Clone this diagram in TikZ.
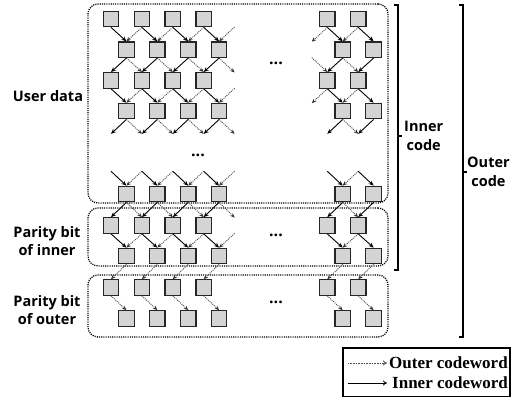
\documentclass[tikz,border=0pt]{standalone}
\usepackage{fontspec}
\setmainfont{Liberation Serif}
\newfontfamily\labelfont{Open Sans}
\usetikzlibrary{arrows.meta}

\begin{document}
\begin{tikzpicture}[x=1pt,y=-1pt,
  sq/.style={draw=black!85, fill=black!17, line width=1.2pt, minimum size=15.5pt, inner sep=0pt},
  ghost/.style={minimum size=15.5pt, inner sep=0pt},
  inarrow/.style={draw=black, line width=0.9pt, -{Stealth[length=5pt,width=4.2pt]}},
  outarrow/.style={draw=black!70, line width=0.9pt, dash pattern=on 1pt off 1pt, -{Stealth[length=4.5pt,width=3.8pt,color=black!80,fill=black!80]}},
  group/.style={draw=black, line width=1.3pt, dash pattern=on 1.1pt off 1.1pt, rounded corners=10pt},
  brk/.style={draw=black, line width=1.3pt},
  lbl/.style={font=\labelfont\bfseries\fontsize{14.5}{18.5}\selectfont, align=center, inner sep=0pt},
  dots/.style={font=\labelfont\bfseries\fontsize{16}{16}\selectfont, inner sep=0pt},
  legtext/.style={font=\bfseries\fontsize{17}{20}\selectfont, inner sep=0pt, anchor=west},
  legline/.style={line width=0.8pt, -{To[length=4pt,width=5pt]}}
]
\useasboundingbox (0,0) rectangle (520,398);

% dotted group frames
\node[group, minimum width=300pt, minimum height=199pt, inner sep=0pt] (userbox) at (238,103.5) {};
\node[group, minimum width=300pt, minimum height=58pt, inner sep=0pt] (innerbox) at (238,237) {};
\node[group, minimum width=300pt, minimum height=62pt, inner sep=0pt] (outerbox) at (238,306) {};

% data and parity cells (A rows start at 111, B rows at 126.4)
\foreach \r/\y/\o in {u1/19/111, u2/49.7/126.4, u3/80.4/111, u4/111.1/126.4,
                      u5/194/126.4, p1/225.5/111, p2/256/126.4, q1/287.5/111, q2/318.5/126.4}{
  \foreach \i in {0,1,2,3,7,8}
    \node[sq] (\r-\i) at ({\o+30.9*\i},\y) {};
}

% hidden positions where chains leave or enter the drawn block
\foreach \r/\y/\o/\i in {u1/19/111/4, u2/49.7/126.4/6, u3/80.4/111/4, u4/111.1/126.4/6, p1/225.5/111/4}
  \node[ghost] (\r-\i) at ({\o+30.9*\i},\y) {};
\foreach \r/\y in {g1/141.8, g2/163.3}{
  \foreach \i in {0,1,2,3,4,7,8}
    \node[ghost] (\r-\i) at ({111+30.9*\i},\y) {};
}

% A row to B row: inner goes down-right, outer comes from the right neighbour
\foreach \s/\t in {u1/u2, u3/u4}{
  \foreach \i in {0,1,2,3,7,8}
    \draw[inarrow] (\s-\i.south) -- (\t-\i.north);
  \foreach \i [evaluate=\i as \j using int(\i+1)] in {0,1,2,3,6,7}
    \draw[outarrow] (\s-\j.south) -- (\t-\i.north);
}
\foreach \s/\t in {g2/u5, p1/p2}{
  \foreach \i in {0,1,2,3,7,8}
    \draw[inarrow] (\s-\i.south) -- (\t-\i.north);
  \foreach \i [evaluate=\i as \j using int(\i+1)] in {0,1,2,3,7}
    \draw[outarrow] (\s-\j.south) -- (\t-\i.north);
}

% B row to A row: inner goes down-left, outer goes down-right
\foreach \i in {0,1,2,3,7,8}
  \draw[inarrow] (u2-\i.south) -- (u3-\i.north);
\foreach \i [evaluate=\i as \j using int(\i+1)] in {0,1,2,3,6,7}
  \draw[outarrow] (u2-\i.south) -- (u3-\j.north);
\foreach \s/\t in {u4/g1, u5/p1}{
  \foreach \i in {0,1,2,3,7,8}
    \draw[inarrow] (\s-\i.south) -- (\t-\i.north);
  \foreach \i [evaluate=\i as \j using int(\i+1)] in {0,1,2,3,7}
    \draw[outarrow] (\s-\i.south) -- (\t-\j.north);
}

% outer parity: outer codeword chain only
\foreach \i in {0,1,2,3,7,8}{
  \draw[outarrow] (p2-\i.south) -- (q1-\i.north);
  \draw[outarrow] (q1-\i.south) -- (q2-\i.north);
}

% ellipses
\node[dots] (dotsA) at (276,63) {...};
\node[dots] (dotsB) at (198,155) {...};
\node[dots] (dotsC) at (276,235) {...};
\node[dots] (dotsD) at (276,302) {...};

% row labels
\node[lbl] (lab-user) at (48,96) {User data};
\node[lbl] (lab-pin) at (47,241) {Parity bit\\of inner};
\node[lbl] (lab-pout) at (47,310) {Parity bit\\of outer};

% brackets
\coordinate (ib-t) at (398,5);
\coordinate (ib-b) at (398,270);
\coordinate (ib-m) at (398,136);
\draw[brk] ([xshift=-4pt]ib-t) -- (ib-t) -- (ib-b) -- ([xshift=-4pt]ib-b);
\draw[brk] (ib-m) -- ([xshift=4pt]ib-m);
\node[lbl, anchor=west] (lab-inner) at ([xshift=6pt]ib-m) {Inner\\code};

\coordinate (ob-t) at (463,5);
\coordinate (ob-b) at (463,337);
\coordinate (ob-m) at (463,172);
\draw[brk] ([xshift=-4pt]ob-t) -- (ob-t) -- (ob-b) -- ([xshift=-4pt]ob-b);
\draw[brk] (ob-m) -- ([xshift=4pt]ob-m);
\node[lbl, anchor=west] (lab-outer) at ([xshift=4pt]ob-m) {Outer\\code};

% legend
\node[draw=black, line width=1.1pt, minimum width=167pt, minimum height=48.5pt, inner sep=0pt] (legend) at (426.5,372.25) {};
\coordinate (lo-a) at (348,363);
\coordinate (lo-b) at (387,363);
\coordinate (li-a) at (348,383);
\coordinate (li-b) at (387,383);
\draw[legline, draw=black!70, dash pattern=on 0.8pt off 0.8pt] (lo-a) -- (lo-b);
\draw[legline] (li-a) -- (li-b);
\node[legtext] (leg-outer) at (389,363) {Outer codeword};
\node[legtext] (leg-inner) at (392,383) {Inner codeword};
\end{tikzpicture}
\end{document}
